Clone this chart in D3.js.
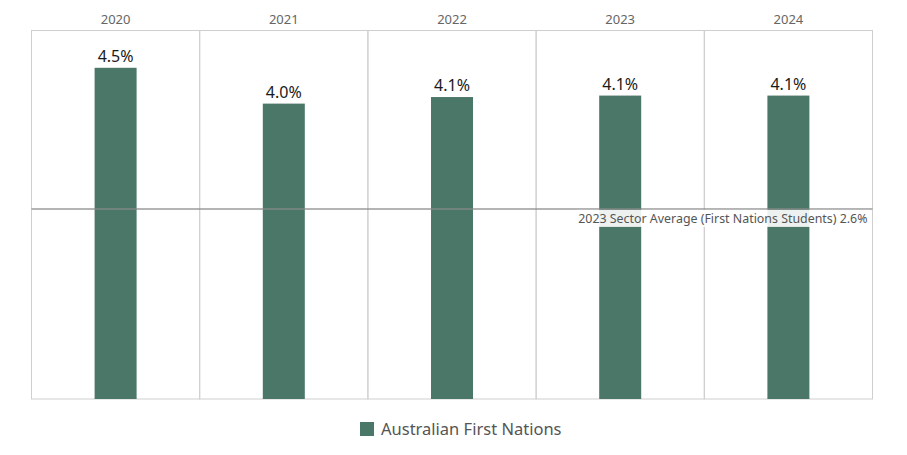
<!DOCTYPE html>
<html>
<head>
<meta charset="utf-8">
<script src="https://cdn.jsdelivr.net/npm/d3@7"></script>
<style>
  body { margin: 0; background: #fff; }
  svg { display: block; font-family: "Noto Sans", "Open Sans", sans-serif; }
</style>
</head>
<body>
<svg id="chart"></svg>
<script>
// data
const years = ["2020", "2021", "2022", "2023", "2024"];
const rates = [4.53, 4.04, 4.13, 4.15, 4.15];
const rateLabels = ["4.5%", "4.0%", "4.1%", "4.1%", "4.1%"];
const sectorAverage = 2.6;
const sectorLabel = "2023 Sector Average (First Nations Students) 2.6%";
const seriesName = "Australian First Nations";

const width = 907, height = 455;
const margin = { top: 30.5, right: 34.5, bottom: 56, left: 31.5 };
const barColor = "#4b7769";

const svg = d3.select("#chart").attr("width", width).attr("height", height);

const x = d3.scaleBand().domain(years).range([margin.left, width - margin.right]);
const y = d3.scaleLinear().domain([0, 5.04]).range([height - margin.bottom, margin.top]);

const cells = svg.append("g");
cells.selectAll("rect")
    .data(years)
    .join("rect")
    .attr("x", d => x(d))
    .attr("y", margin.top)
    .attr("width", x.bandwidth())
    .attr("height", y(0) - margin.top)
    .attr("fill", "none")
    .attr("stroke", "#cfcfcf")
    .attr("stroke-width", 1);

// year headers
svg.append("g").selectAll("text")
    .data(years)
    .join("text")
    .attr("x", d => x(d) + x.bandwidth() / 2)
    .attr("y", 24)
    .attr("text-anchor", "middle")
    .style("font-size", "13px")
    .style("fill", "#666")
    .text(d => d);

const barW = 42;
const bars = svg.append("g");
bars.selectAll("rect")
    .data(years)
    .join("rect")
    .attr("x", d => x(d) + x.bandwidth() / 2 - barW / 2)
    .attr("y", (d, i) => y(rates[i]))
    .attr("width", barW)
    .attr("height", (d, i) => y(0) - y(rates[i]))
    .attr("fill", barColor);

bars.selectAll("text")
    .data(years)
    .join("text")
    .attr("x", d => x(d) + x.bandwidth() / 2)
    .attr("y", (d, i) => y(rates[i]) - 6)
    .attr("text-anchor", "middle")
    .style("font-size", "16px")
    .style("fill", "#1a1a1a")
    .text((d, i) => rateLabels[i]);

// reference line
const refY = y(sectorAverage);
svg.append("line")
    .attr("x1", margin.left)
    .attr("x2", width - margin.right)
    .attr("y1", refY)
    .attr("y2", refY)
    .attr("stroke", "#8a8a8a")
    .attr("stroke-opacity", 0.85)
    .attr("stroke-width", 1.5);

const refG = svg.append("g");
const refBg = refG.append("rect");
const refText = refG.append("text")
    .attr("x", width - margin.right - 5)
    .attr("y", refY + 14)
    .attr("text-anchor", "end")
    .style("font-size", "12.4px")
    .style("fill", "#555")
    .text(sectorLabel);
const bb = refText.node().getBBox();
refBg
    .attr("x", bb.x - 2)
    .attr("y", bb.y)
    .attr("width", bb.width + 4)
    .attr("height", bb.height)
    .attr("fill", "#fff")
    .attr("fill-opacity", 0.9);

// legend
const legend = svg.append("g").attr("transform", "translate(360, 422)");
legend.append("rect")
    .attr("width", 14)
    .attr("height", 14)
    .attr("fill", barColor);
legend.append("text")
    .attr("x", 21)
    .attr("y", 13)
    .style("font-size", "16.5px")
    .style("fill", "#555")
    .text(seriesName);
</script>
</body>
</html>
